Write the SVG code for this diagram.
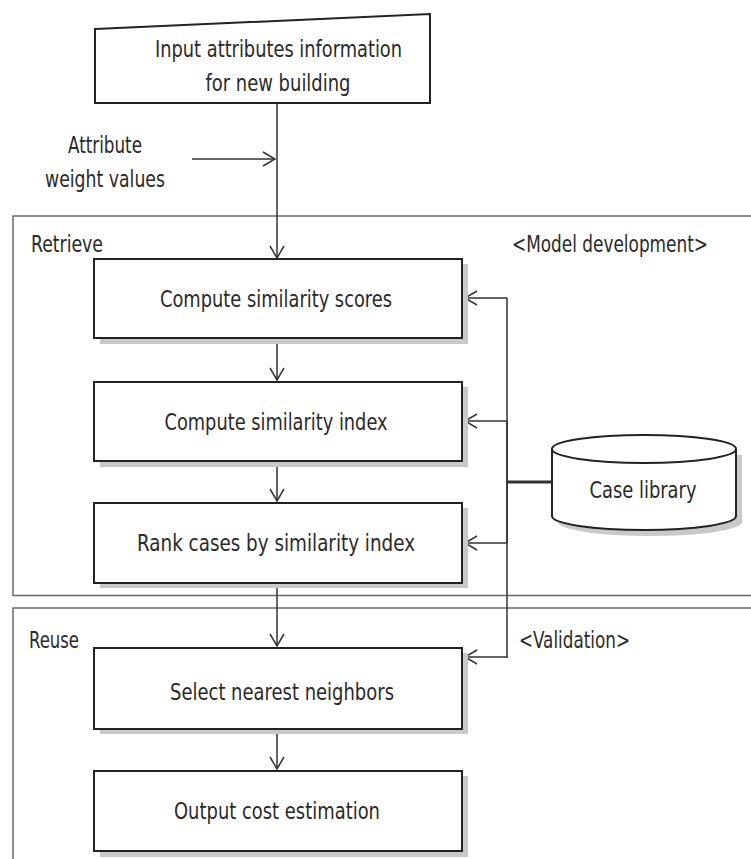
<svg xmlns="http://www.w3.org/2000/svg" width="751" height="859" viewBox="0 0 751 859">
  <style>
    .frame { fill: none; stroke: #6a6a6a; stroke-width: 1.5; }
    .box { fill: #ffffff; stroke: #222222; stroke-width: 2; }
    .shadow { fill: #c9c9c9; stroke: none; }
    .lbl { font-family: "DejaVu Sans Condensed", "DejaVu Sans", sans-serif; font-size: 23px; fill: #2a2a2a; }
    .mid { text-anchor: middle; }
    .wire { fill: none; stroke: #333333; stroke-width: 1.5; }
    .bus { fill: none; stroke: #333333; stroke-width: 3; }
  </style>
  <defs>
    <marker id="vee" viewBox="0 0 14 16" refX="13" refY="8" markerWidth="14" markerHeight="16" markerUnits="userSpaceOnUse" orient="auto">
      <path d="M1,1 L13,8 L1,15" fill="none" stroke="#333333" stroke-width="1.5"/>
    </marker>
  </defs>

  <rect width="751" height="859" fill="#ffffff"/>

  <!-- phase frames -->
  <g id="frame-retrieve">
    <path class="frame" d="M760,216 H13 V595.5 H760"/>
    <text class="lbl" x="31" y="252" textLength="72" lengthAdjust="spacingAndGlyphs">Retrieve</text>
    <text class="lbl" x="512" y="252" textLength="196" lengthAdjust="spacingAndGlyphs">&lt;Model development&gt;</text>
  </g>
  <g id="frame-reuse">
    <path class="frame" d="M760,608 H13 V870"/>
    <text class="lbl" x="29" y="648" textLength="50" lengthAdjust="spacingAndGlyphs">Reuse</text>
    <text class="lbl" x="519" y="648" textLength="111" lengthAdjust="spacingAndGlyphs">&lt;Validation&gt;</text>
  </g>

  <!-- connectors -->
  <g id="connectors">
    <line class="wire" x1="277" y1="103" x2="277" y2="258" marker-end="url(#vee)"/>
    <line class="wire" x1="192" y1="159" x2="275" y2="159" marker-end="url(#vee)"/>
    <line class="wire" x1="277" y1="339" x2="277" y2="380" marker-end="url(#vee)"/>
    <line class="wire" x1="277" y1="462" x2="277" y2="501" marker-end="url(#vee)"/>
    <line class="wire" x1="277" y1="584" x2="277" y2="646" marker-end="url(#vee)"/>
    <line class="wire" x1="277" y1="730" x2="277" y2="769" marker-end="url(#vee)"/>
    <!-- case library feed bus -->
    <line class="wire" x1="507" y1="298" x2="507" y2="658"/>
    <line class="wire" x1="507" y1="421" x2="507" y2="543" stroke-width="2.5"/>
    <line class="wire" x1="507" y1="298" x2="465" y2="298" marker-end="url(#vee)"/>
    <line class="wire" x1="507" y1="421" x2="465" y2="421" marker-end="url(#vee)"/>
    <line class="wire" x1="507" y1="543" x2="465" y2="543" marker-end="url(#vee)"/>
    <line class="wire" x1="507" y1="657" x2="465" y2="657" marker-end="url(#vee)"/>
    <line class="bus" x1="506" y1="482" x2="552" y2="482"/>
  </g>

  <!-- input -->
  <g id="input">
    <polygon class="box" points="95,29 430,14 430,103 95,103"/>
    <text class="lbl mid" x="278.5" y="57" textLength="247" lengthAdjust="spacingAndGlyphs">Input attributes information</text>
    <text class="lbl mid" x="278" y="91" textLength="145" lengthAdjust="spacingAndGlyphs">for new building</text>
  </g>

  <g id="weights">
    <text class="lbl mid" x="105" y="153" textLength="74" lengthAdjust="spacingAndGlyphs">Attribute</text>
    <text class="lbl mid" x="105" y="187" textLength="120" lengthAdjust="spacingAndGlyphs">weight values</text>
  </g>

  <!-- process steps -->
  <g id="step-scores">
    <rect class="shadow" x="100" y="264" width="368" height="80"/>
    <rect class="box" x="94" y="259" width="368" height="79"/>
    <text class="lbl mid" x="276" y="307" textLength="232" lengthAdjust="spacingAndGlyphs">Compute similarity scores</text>
  </g>
  <g id="step-index">
    <rect class="shadow" x="100" y="387" width="368" height="80"/>
    <rect class="box" x="94" y="382" width="368" height="79"/>
    <text class="lbl mid" x="276" y="430" textLength="223" lengthAdjust="spacingAndGlyphs">Compute similarity index</text>
  </g>
  <g id="step-rank">
    <rect class="shadow" x="100" y="508" width="368" height="80"/>
    <rect class="box" x="94" y="503" width="368" height="80"/>
    <text class="lbl mid" x="276" y="551" textLength="278" lengthAdjust="spacingAndGlyphs">Rank cases by similarity index</text>
  </g>
  <g id="step-select">
    <rect class="shadow" x="100" y="653" width="368" height="81"/>
    <rect class="box" x="94" y="648" width="368" height="81"/>
    <text class="lbl mid" x="282" y="700" textLength="224" lengthAdjust="spacingAndGlyphs">Select nearest neighbors</text>
  </g>
  <g id="step-output">
    <rect class="shadow" x="100" y="776" width="368" height="81"/>
    <rect class="box" x="94" y="771" width="368" height="80"/>
    <text class="lbl mid" x="277" y="819" textLength="206" lengthAdjust="spacingAndGlyphs">Output cost estimation</text>
  </g>

  <!-- case library store -->
  <g id="case-library">
    <path class="shadow" d="M558,455 V522 A92,14 0 0 0 742,522 V455 Z"/>
    <path class="box" d="M552,449 V516 A92,14 0 0 0 736,516 V449"/>
    <ellipse class="box" cx="644" cy="449" rx="92" ry="14"/>
    <text class="lbl mid" x="643" y="498" textLength="107" lengthAdjust="spacingAndGlyphs">Case library</text>
  </g>
</svg>
